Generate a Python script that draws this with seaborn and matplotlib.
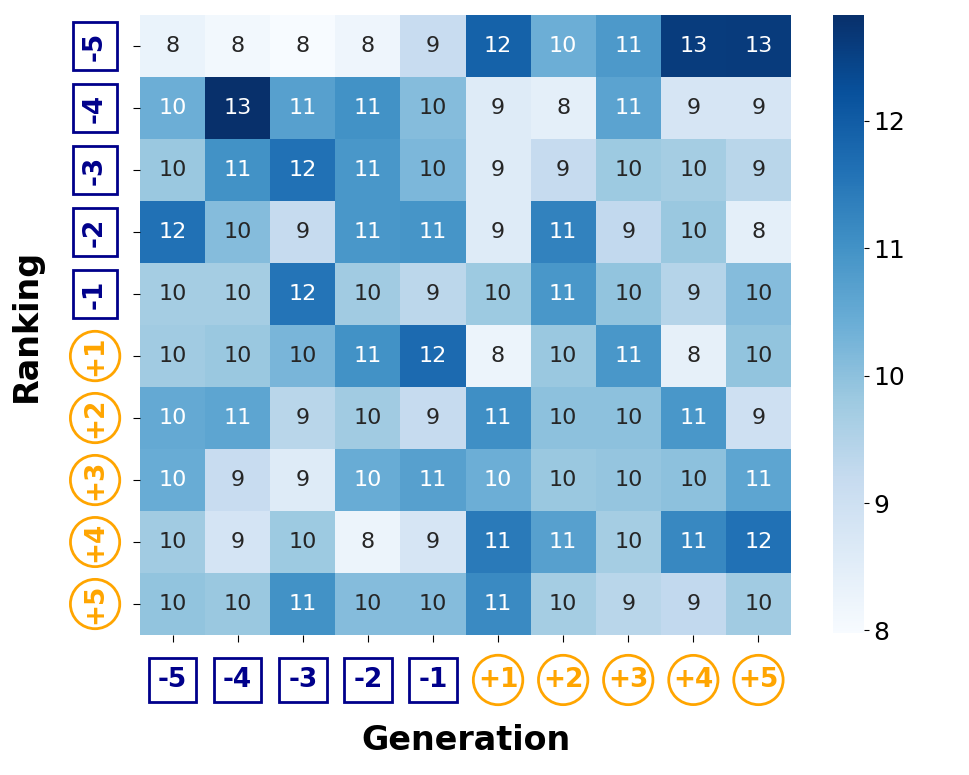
import seaborn as sns
import matplotlib
matplotlib.use('Agg')
import matplotlib.pyplot as plt
import numpy as np
import pandas as pd

# axis labels (rows = ranking, cols = generation)
gen_labels = ['-5', '-4', '-3', '-2', '-1', '+1', '+2', '+3', '+4', '+5']
rank_labels = ['-5', '-4', '-3', '-2', '-1', '+1', '+2', '+3', '+4', '+5']

# cell values, one list per ranking row (estimated from colours)
row_m5 = [8.30, 8.10, 7.98, 8.20, 9.15, 11.90, 10.40, 10.85, 12.60, 12.62]
row_m4 = [10.40, 12.83, 10.70, 11.00, 10.10, 8.60, 8.45, 10.65, 8.80, 8.80]
row_m3 = [9.85, 11.00, 11.60, 10.90, 10.20, 8.60, 9.20, 9.80, 9.70, 9.40]
row_m2 = [11.60, 10.10, 9.20, 10.90, 10.95, 8.60, 11.30, 9.25, 9.85, 8.45]
row_m1 = [9.70, 9.70, 11.55, 9.75, 9.35, 9.80, 10.90, 9.95, 9.45, 10.10]
row_p1 = [9.75, 9.85, 10.25, 11.00, 11.75, 8.25, 9.85, 10.90, 8.40, 9.95]
row_p2 = [10.50, 10.60, 9.40, 9.75, 9.20, 11.05, 10.00, 10.00, 10.90, 9.00]
row_p3 = [10.45, 9.15, 8.60, 10.45, 10.70, 10.40, 9.85, 9.90, 10.00, 10.60]
row_p4 = [9.75, 8.85, 9.80, 8.25, 8.80, 11.45, 10.70, 9.70, 11.20, 11.60]
row_p5 = [9.95, 9.85, 11.00, 10.10, 10.10, 11.15, 9.70, 9.40, 9.25, 9.75]

df = pd.DataFrame([row_m5, row_m4, row_m3, row_m2, row_m1,
                   row_p1, row_p2, row_p3, row_p4, row_p5],
                  index=rank_labels, columns=gen_labels)

neg_color = '#00008b'
pos_color = 'orange'

fig = plt.figure(figsize=(9.69, 7.75), dpi=100)
ax = fig.add_axes([0.1445, 0.1806, 0.6718, 0.80])
cax = fig.add_axes([0.8596, 0.1832, 0.032, 0.7974])

sns.heatmap(df, ax=ax, cbar_ax=cax, cmap='Blues', annot=True, fmt='.0f',
            annot_kws={'size': 16})

ax.tick_params(axis='x', pad=18, length=5)
ax.tick_params(axis='y', pad=18, length=5)
ax.set_xticklabels(gen_labels, rotation=0)
ax.set_yticklabels(rank_labels, rotation=90, va='center')

for lab in ax.get_xticklabels() + ax.get_yticklabels():
    t = lab.get_text()
    lab.set_fontsize(19)
    lab.set_fontweight('bold')
    if t.startswith('-'):
        lab.set_color(neg_color)
        lab.set_bbox(dict(boxstyle='square,pad=0.35', fc='white', ec=neg_color, lw=2))
    else:
        lab.set_color(pos_color)
        lab.set_bbox(dict(boxstyle='circle,pad=0.17', fc='white', ec=pos_color, lw=2))

ax.set_xlabel('Generation', fontsize=24, fontweight='bold', labelpad=22)
ax.set_ylabel('Ranking', fontsize=24, fontweight='bold', labelpad=28)

cax.tick_params(labelsize=18)
cax.set_yticks([8, 9, 10, 11, 12])

plt.savefig('out.png', dpi=100)
plt.close(fig)
